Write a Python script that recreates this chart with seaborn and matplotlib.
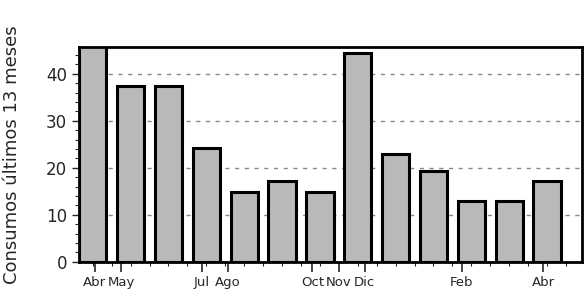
import numpy as np
import pandas as pd
import matplotlib
matplotlib.use("Agg")
import matplotlib.pyplot as plt
import seaborn as sns
from matplotlib.ticker import MultipleLocator, FixedLocator

# Data (last 13 months consumption)
months = ["Abr", "May", "Jun", "Jul", "Ago", "Sep", "Oct", "Nov", "Dic", "Ene", "Feb", "Mar", "Abr"]
consumo = [47, 37.4, 37.4, 24.3, 14.9, 17.2, 14.9, 44.5, 23.0, 19.4, 13.0, 13.0, 17.2]
tick_labels = ["Abr", "May", "Jul", "Ago", "Oct", "Nov", "Dic", "Feb", "Abr"]

# Layout: label positions as they sit on the original (time-like) axis
tick_pos = [0.05, 0.75, 2.88, 3.56, 5.8, 6.5, 7.18, 9.75, 11.9]

sns.set_style("white")
plt.rcParams["font.family"] = ["DejaVu Sans"]

df = pd.DataFrame({"idx": np.arange(len(months)), "mes": months, "consumo": consumo})

fig = plt.figure(figsize=(5.86, 3.01), dpi=100)
ax = fig.add_axes([0.135, 0.13, 0.858, 0.714])

for y in [10, 20, 30, 40]:
    ax.axhline(y, color="#888888", linestyle=(0, (3, 4)), linewidth=1.0, zorder=0)

sns.barplot(data=df, x="idx", y="consumo", color="#b9b9b9", saturation=1,
            width=0.72, edgecolor="black", linewidth=2.2, ax=ax, zorder=2)

ax.set_xlim(-0.36, 12.92)
ax.set_ylim(0, 45.7)
ax.yaxis.set_major_locator(MultipleLocator(10))
ax.yaxis.set_minor_locator(MultipleLocator(2))
ax.xaxis.set_major_locator(FixedLocator(tick_pos))
ax.set_xticklabels(tick_labels, fontsize=9.5)
ax.xaxis.set_minor_locator(MultipleLocator(0.5))
ax.tick_params(axis="y", which="major", length=5, width=1, labelsize=12, left=True)
ax.tick_params(axis="y", which="minor", length=3, width=0.8, left=True)
ax.tick_params(axis="x", which="major", length=7, width=1.2, bottom=True, pad=3)
ax.tick_params(axis="x", which="minor", length=3, width=0.8, bottom=True)

for s in ax.spines.values():
    s.set_visible(True)
    s.set_linewidth(2)
    s.set_color("black")

ax.set_xlabel("")
ax.set_ylabel("Consumos últimos 13 meses", fontsize=13, labelpad=12)
ax.yaxis.set_label_coords(-0.115, 0.5)

fig.savefig("out.png", dpi=100)
